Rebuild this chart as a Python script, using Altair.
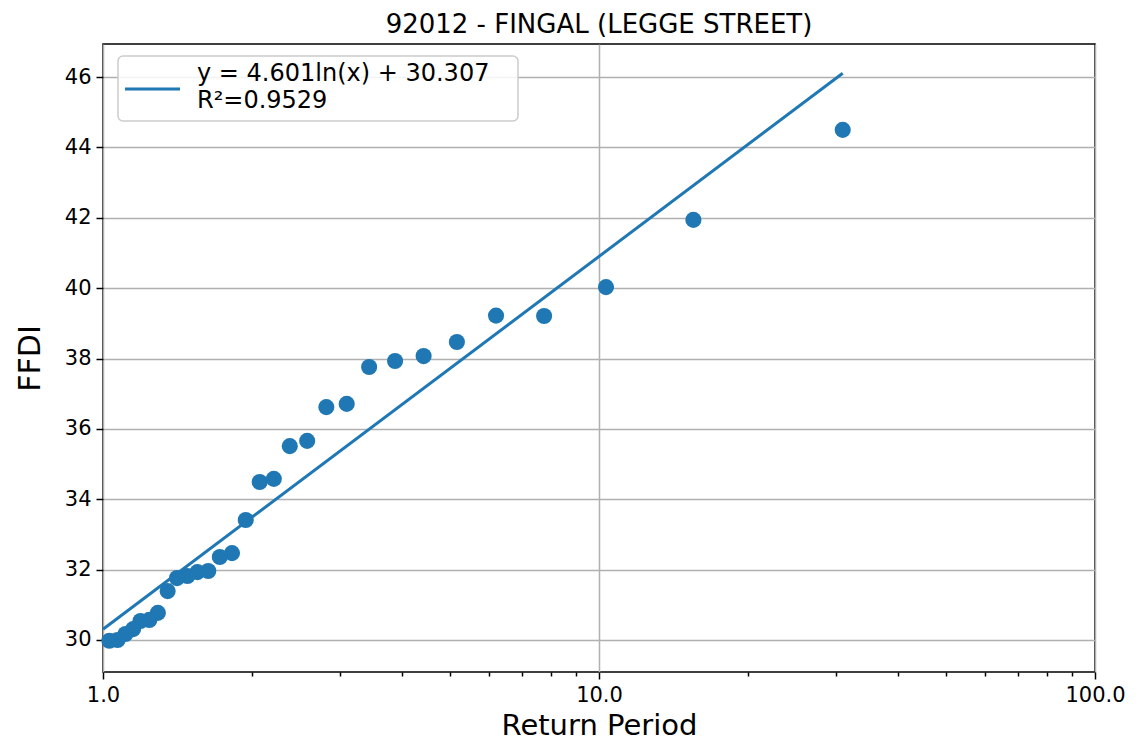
import math
import altair as alt
import pandas as pd

# ---- data ----
return_period = [31.0, 15.5, 10.33, 7.75, 6.2, 5.17, 4.43, 3.88, 3.44, 3.1,
                 2.82, 2.58, 2.38, 2.21, 2.07, 1.94, 1.82, 1.72, 1.63, 1.55,
                 1.48, 1.41, 1.35, 1.29, 1.24, 1.19, 1.15, 1.11, 1.07, 1.03]
ffdi = [44.5, 41.94, 40.03, 39.21, 39.22, 38.47, 38.07, 37.93, 37.76, 36.71,
        36.62, 35.66, 35.51, 34.58, 34.49, 33.41, 32.47, 32.36, 31.96, 31.93,
        31.82, 31.76, 31.39, 30.77, 30.57, 30.54, 30.31, 30.17, 30.0, 29.98]

fit_slope = 4.601
fit_intercept = 30.307
fit_r2 = 0.9529
fit_x = [1.0, max(return_period)]
fit_y = [fit_intercept + fit_slope * math.log(v) for v in fit_x]

major_ticks = [1, 10, 100]
minor_ticks = [2, 3, 4, 5, 6, 7, 8, 9, 20, 30, 40, 50, 60, 70, 80, 90]
y_ticks = [30, 32, 34, 36, 38, 40, 42, 44, 46]

legend_lines = ["y = 4.601ln(x) + 30.307", "R\u00b2=0.9529"]

title = "92012 - FINGAL (LEGGE STREET)"
x_title = "Return Period"
y_title = "FFDI"

BLUE = "#1f77b4"
FONT = "DejaVu Sans"

pts = pd.DataFrame({"rp": return_period, "ffdi": ffdi})
fit = pd.DataFrame({"rp": fit_x, "ffdi": fit_y})

is_major = "datum.value == 1 || datum.value == 10 || datum.value == 100"

xs = alt.Scale(type="log", domain=[1, 100], nice=False)
ys = alt.Scale(domain=[29.09, 46.94], nice=False, zero=False)

x_axis = alt.Axis(values=sorted(major_ticks + minor_ticks), grid=True, orient="bottom",
                  labelExpr=f"({is_major}) ? format(datum.value, '.1f') : ''",
                  title=x_title, titleFontSize=29, titleFont=FONT,
                  titleFontWeight="normal", titlePadding=6,
                  labelFontSize=21, labelFont=FONT, labelPadding=5,
                  tickSize={"condition": {"test": is_major, "value": 7}, "value": 4},
                  tickWidth=1.5, tickColor="black",
                  labelColor="black", titleColor="black", domain=False,
                  gridColor="#b0b0b0", gridWidth=1.5,
                  gridOpacity={"condition": {"test": is_major, "value": 1}, "value": 0},
                  labelFlush=False, labelOverlap=False)
y_axis = alt.Axis(values=y_ticks, format="d", grid=True,
                  title=y_title, titleFontSize=30, titleFont=FONT,
                  titleFontWeight="normal", titlePadding=19,
                  labelFontSize=21, labelFont=FONT, labelPadding=5,
                  tickSize=7, tickWidth=1.5, tickColor="black",
                  labelColor="black", titleColor="black", domain=False,
                  gridColor="#b0b0b0", gridWidth=1.5)

points = alt.Chart(pts).mark_circle(size=260, opacity=1, color=BLUE).encode(
    x=alt.X("rp:Q", scale=xs, axis=x_axis),
    y=alt.Y("ffdi:Q", scale=ys, axis=y_axis),
)

line = alt.Chart(fit).mark_line(color=BLUE, strokeWidth=3).encode(
    x=alt.X("rp:Q", scale=xs),
    y=alt.Y("ffdi:Q", scale=ys),
)

leg_df = pd.DataFrame({"label": legend_lines, "row": [0, 1]})
leg_box = alt.Chart(pd.DataFrame({"a": [0]})).mark_rect(
    fill="white", fillOpacity=0.85, stroke="#cccccc", strokeWidth=1.5, cornerRadius=5
).encode(x=alt.value(15), x2=alt.value(415), y=alt.value(12), y2=alt.value(77))
leg_line = alt.Chart(pd.DataFrame({"a": [0]})).mark_rule(color=BLUE, strokeWidth=3).encode(
    x=alt.value(22), x2=alt.value(77), y=alt.value(45))
leg_text1 = alt.Chart(leg_df[leg_df.row == 0]).mark_text(
    align="left", baseline="middle", fontSize=24, font=FONT, color="black"
).encode(x=alt.value(94), y=alt.value(30), text="label:N")
leg_text2 = alt.Chart(leg_df[leg_df.row == 1]).mark_text(
    align="left", baseline="middle", fontSize=24, font=FONT, color="black"
).encode(x=alt.value(94), y=alt.value(57), text="label:N")

chart = alt.layer(
    points, line, leg_box, leg_line, leg_text1, leg_text2
).properties(
    width=992, height=628,
    title=alt.TitleParams(title, fontSize=26, font=FONT, fontWeight="normal",
                          color="black", offset=6),
    autosize=alt.AutoSizeParams(type="none"),
    padding={"left": 95, "top": 36, "right": 36, "bottom": 76},
    background="white",
).configure_view(stroke="black", strokeWidth=1.5)

chart.save("out.html", embed_options={"renderer": "svg", "actions": False})
